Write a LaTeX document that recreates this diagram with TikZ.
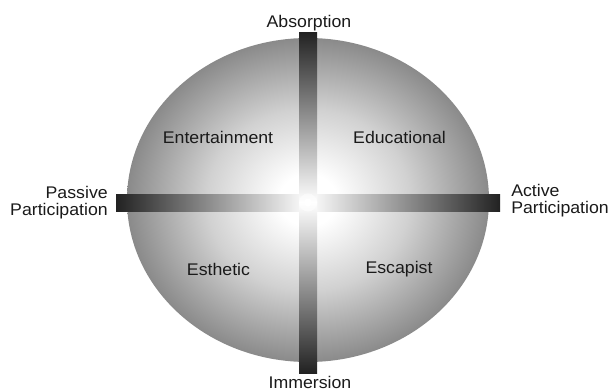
\documentclass[tikz,border=0pt]{standalone}
\usepackage{fontspec}
\setmainfont[FakeStretch=1.05]{Liberation Sans}
\usepackage{tikz}
\usetikzlibrary{positioning, calc}
\definecolor{bardark}{RGB}{34,34,34}
\definecolor{rimgray}{RGB}{138,138,138}
\definecolor{txtdark}{RGB}{26,26,26}
\pgfdeclareradialshading{discshade}{\pgfpointorigin}{%
  color(0bp)=(white); color(4bp)=(white); color(14bp)=(black!18);
  color(25bp)=(rimgray); color(50bp)=(rimgray)}
\pgfdeclareradialshading{hubglow}{\pgfpointorigin}{%
  color(0bp)=(white); color(10bp)=(white); color(25bp)=(white!70!black); color(50bp)=(white!70!black)}
\tikzset{
  axislabel/.style={inner sep=0pt, text=txtdark,
    font=\fontsize{12}{12.1}\selectfont},
  quadlabel/.style={inner sep=0pt, text=txtdark,
    font=\fontsize{12}{12.1}\selectfont},
  bar/.style={draw=none}
}

\begin{document}
\begin{tikzpicture}[x=0.025cm, y=0.025cm]
  \useasboundingbox (0,0) rectangle (609,390);

  % Disc
  \shade[shading=discshade] (308,190) ellipse [x radius=181, y radius=162];

  % Horizontal bar
  \coordinate (hub) at (308,187.5);
  \shade[bar, left color=bardark, right color=white] (116,179) rectangle (308,196);
  \shade[bar, left color=white, right color=bardark] (308,179) rectangle (500,196);

  % Vertical bar
  \shade[bar, top color=bardark, bottom color=white] (299,187.5) rectangle (317,358);
  \shade[bar, top color=white, bottom color=bardark] (299,17) rectangle (317,187.5);
  \fill[white, opacity=0.5] (hub) circle (9);
  \fill[white] (hub) circle (4);

  % Axis labels
  \node[axislabel, anchor=base] (absorption) at (309,363) {Absorption};
  \node[axislabel, anchor=base] (immersion) at (310,1.5) {Immersion};
  \node[axislabel, anchor=east, align=right] (passive) at (108,187.6) {Passive\\Participation};
  \node[axislabel, anchor=west, align=left] (active) at (511,189) {Active\\Participation};

  % Quadrants
  \node[quadlabel] (entertainment) at (218,252.5) {Entertainment};
  \node[quadlabel] (educational) at (399.5,252.5) {Educational};
  \node[quadlabel] (esthetic) at (218.5,120.5) {Esthetic};
  \node[quadlabel] (escapist) at (399,120.5) {Escapist};
\end{tikzpicture}
\end{document}
